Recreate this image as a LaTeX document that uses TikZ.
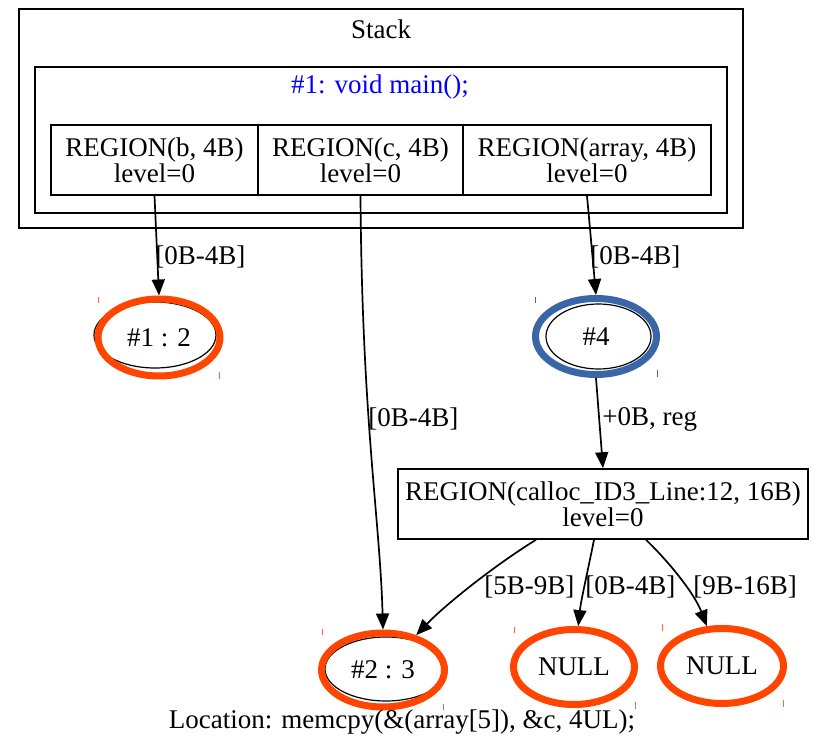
\documentclass[tikz,border=0pt]{standalone}
\usepackage{fontspec}
\setmainfont{Liberation Serif}
\usetikzlibrary{shapes.geometric,arrows.meta}
\definecolor{ored}{HTML}{FF4500}
\definecolor{bblue}{HTML}{3A66A8}
\begin{document}
\begin{tikzpicture}[x=0.5pt,y=-0.5pt,
  every node/.style={font=\fontsize{13.5}{13}\selectfont},
  box/.style={draw, line width=0.8pt, inner sep=0pt},
  txt/.style={inner sep=0pt, align=center},
  lbl/.style={inner sep=0pt, anchor=west},
  oval/.style={ellipse, draw=ored, line width=3.5pt, inner sep=0pt},
  thin oval/.style={draw, line width=0.6pt},
  tick/.style={line width=0.5pt},
  edge/.style={line width=0.85pt, -{Triangle[length=8pt,width=6.5pt]}}
]
\useasboundingbox (0,0) rectangle (816,738);
\fill[white] (0,0) rectangle (816,738);
% clusters
\node[box, minimum width=362pt, minimum height=109.5pt] (stack) at (381,118.5) {};
\node[txt] (stacklbl) at (381,29) {Stack};
\node[box, minimum width=346pt, minimum height=73pt] (frame) at (381,140) {};
\node[txt, text=blue] (framelbl) at (380,87) {\#1: void main();};
% record fields
\node[box, minimum width=103.5pt, minimum height=35pt, align=center] (fb) at (154.5,160) {REGION(b, 4B)\\level=0};
\node[box, minimum width=102.5pt, minimum height=35pt, align=center] (fc) at (360.5,160) {REGION(c, 4B)\\level=0};
\node[box, minimum width=124pt, minimum height=35pt, align=center] (fa) at (587,160) {REGION(array, 4B)\\level=0};
% calloc box
\node[box, minimum width=205pt, minimum height=35pt, align=center] (cal) at (603,504) {REGION(calloc\_ID3\_Line:12, 16B)\\level=0};
% ellipses
\draw[thin oval] (155,335) ellipse [x radius=61, y radius=33];
\node[oval, minimum width=61pt, minimum height=38.5pt] (n12) at (159,337.5) {\#1 : 2};
\draw[thin oval] (598.5,336.5) ellipse [x radius=52.5, y radius=32.5];
\node[ellipse, draw=bblue, line width=3.5pt, inner sep=0pt, minimum width=60.5pt, minimum height=38pt] (n4) at (596,336.5) {\#4};
\draw[thin oval] (386,669) ellipse [x radius=61, y radius=32];
\node[oval, minimum width=61.5pt, minimum height=37pt] (n23) at (383,670) {\#2 : 3};
\node[oval, minimum width=60.5pt, minimum height=37.5pt] (null1) at (574,667) {NULL};
\node[oval, minimum width=61.5pt, minimum height=37.5pt] (null2) at (722,666) {NULL};
% ticks
\draw[tick, ored!80] (98,297) -- (98,303) (219,372) -- (219,379);
\draw[tick, bblue] (535,297) -- (535,303) (657,370) -- (657,377);
\draw[tick, ored!80] (322,629) -- (322,635) (443,704) -- (443,710);
\draw[tick, ored!80] (514,627) -- (514,633) (635,702) -- (635,709);
\draw[tick, ored!80] (662,624) -- (662,631) (783,700) -- (783,707);
% edges
\draw[edge] (fb.south) -- (n12.north);
\draw[edge] (fa.south) -- (n4.north);
\draw[edge] (n4.south) -- (cal.north);
\draw[edge] (fc.south) .. controls (362,420) and (380,520) .. (n23.north);
\draw[edge] ([xshift=-33.5pt]cal.south) .. controls (495,565) and (445,605) .. (n23);
\draw[edge] ([xshift=-4.5pt]cal.south) .. controls (588,570) and (581,600) .. (null1);
\draw[edge] ([xshift=21.5pt]cal.south) .. controls (672,565) and (695,595) .. (null2);
% labels
\node[lbl] (l1) at (155,257) {[0B-4B]};
\node[lbl] (l2) at (590,257) {[0B-4B]};
\node[lbl] (l3) at (602,419) {+0B, reg};
\node[lbl] (l4) at (368,419) {[0B-4B]};
\node[lbl] (l5) at (484,587) {[5B-9B]};
\node[lbl] (l6) at (585,587) {[0B-4B]};
\node[lbl] (l7) at (693,587) {[9B-16B]};
\node[txt] (cap) at (402,722) {Location: memcpy(\&(array[5]), \&c, 4UL);};
\end{tikzpicture}
\end{document}
